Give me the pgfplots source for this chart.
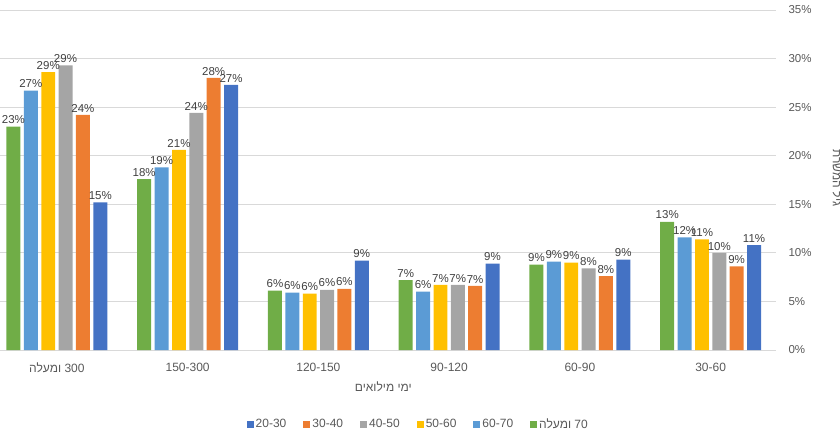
\documentclass[border=0pt]{standalone}
\usepackage{fontspec}
\setmainfont{Liberation Sans}
\newfontfamily\hebfont[Script=Hebrew]{Liberation Sans}
\TeXXeTstate=1
\usepackage{pgfplots}
\pgfplotsset{compat=1.18}
\definecolor{cGreen}{HTML}{70AD47}
\definecolor{cLBlue}{HTML}{5B9BD5}
\definecolor{cYellow}{HTML}{FFC000}
\definecolor{cGray}{HTML}{A5A5A5}
\definecolor{cOrange}{HTML}{ED7D31}
\definecolor{cBlue}{HTML}{4472C4}
\definecolor{gridc}{HTML}{D9D9D9}
\definecolor{tickc}{HTML}{595959}
\definecolor{labc}{HTML}{404040}
\begin{document}
\begin{tikzpicture}[x=1pt,y=1pt]
\useasboundingbox (0,-89) rectangle (840,350);
\begin{axis}[
  at={(0,0)}, anchor=south west,
  scale only axis, width=776pt, height=340pt,
  ybar,
  bar width=0.107,
  xmin=-0.435, xmax=5.5,
  ymin=0, ymax=35,
  ytick={0,5,...,35},
  xtick={0,1,2,3,4,5},
  xticklabels={{\hebfont\beginR 300 ומעלה\endR},{150-300},{120-150},{90-120},{60-90},{30-60}},
  yticklabel={\pgfmathprintnumber{\tick}\%},
  /pgf/number format/assume math mode=true,
  axis x line*=bottom,
  axis y line*=right,
  x axis line style={draw=gridc, -},
  y axis line style={draw=none},
  xtick style={draw=none},
  ytick style={draw=none},
  ymajorgrids,
  grid style={draw=gridc, line width=0.8pt},
  ticklabel style={font=\fontsize{12}{14}\selectfont, text=tickc},
  yticklabel style={anchor=west, xshift=9pt, font=\fontsize{11.5}{13}\selectfont},
  xticklabel style={anchor=center, yshift=-13pt},
  xlabel={\hebfont\beginR ימי מילואים\endR},
  xlabel style={at={(axis description cs:0.494,-0.108)}, anchor=center, font=\fontsize{12}{14}\selectfont, text=tickc},
  nodes near coords={\pgfmathprintnumber[fixed,precision=0]{\pgfplotspointmeta}\%},
  every node near coord/.append style={font=\fontsize{11.5}{13}\selectfont, text=labc, anchor=south, inner sep=2.5pt},
  legend columns=6,
  reverse legend,
  legend style={at={(0.539,-0.218)}, anchor=center, draw=none, fill=none,
    font=\fontsize{12}{14}\selectfont, text=tickc,
    /tikz/every even column/.append style={column sep=15pt},
    /tikz/every odd column/.append style={column sep=0pt}},
  legend image code/.code={\fill[#1] (0pt,-3.5pt) rectangle (7pt,3.5pt);},
  clip=false,
]
\addplot[fill=cGreen, draw=none, bar shift=-0.332] coordinates {(0,23.0) (1,17.6) (2,6.1) (3,7.2) (4,8.8) (5,13.2)};
\addplot[fill=cLBlue, draw=none, bar shift=-0.199] coordinates {(0,26.7) (1,18.8) (2,5.9) (3,6.0) (4,9.1) (5,11.6)};
\addplot[fill=cYellow, draw=none, bar shift=-0.066] coordinates {(0,28.6) (1,20.6) (2,5.8) (3,6.7) (4,9.0) (5,11.4)};
\addplot[fill=cGray, draw=none, bar shift=0.066] coordinates {(0,29.3) (1,24.4) (2,6.2) (3,6.7) (4,8.4) (5,10.0)};
\addplot[fill=cOrange, draw=none, bar shift=0.199] coordinates {(0,24.2) (1,28.0) (2,6.3) (3,6.6) (4,7.6) (5,8.6)};
\addplot[fill=cBlue, draw=none, bar shift=0.332] coordinates {(0,15.2) (1,27.3) (2,9.2) (3,8.9) (4,9.3) (5,10.8)};
\legend{{\hebfont\beginR 70 ומעלה\endR},60-70,50-60,40-50,30-40,20-30}
\end{axis}
\node[rotate=-90, anchor=south, font=\hebfont\fontsize{12}{14}\selectfont, text=tickc] at (829,172) {\beginR גיל המשרת\endR};
\end{tikzpicture}
\end{document}
